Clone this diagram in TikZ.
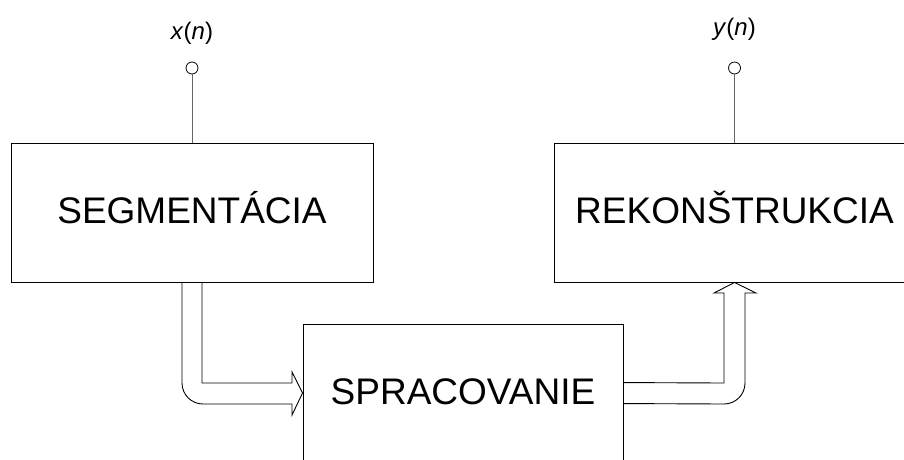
\documentclass[tikz,border=0pt]{standalone}
\usepackage{fontspec}
\setmainfont{Liberation Sans}
\begin{document}
\begin{tikzpicture}[x=1pt,y=-1pt,
  box/.style={draw, line width=0.9pt, inner sep=0pt},
  lbl/.style={font=\fontsize{37}{44}\selectfont, anchor=base, inner sep=0pt},
  sig/.style={font=\fontsize{24}{28}\selectfont, anchor=base, inner sep=0pt},
  term/.style={circle, draw, line width=0.8pt, minimum size=12pt, inner sep=0pt, fill=white},
  stem/.style={draw, line width=1pt, black!60},
  dbl/.style={draw, line width=0.9pt, line join=miter}]
\clip (0,0) rectangle (904,459);
\fill[white] (0,0) rectangle (904,459);
% boxes
\node[box, minimum width=362pt, minimum height=139pt] (seg) at (192,212.5) {};
\node[box, minimum width=361pt, minimum height=139pt] (rek) at (734.5,212.5) {};
\node[box, minimum width=320pt, minimum height=160pt] (spr) at (463,404) {};
\node[lbl] (segt) at (192,223) {SEGMENTÁCIA};
\node[lbl] (rekt) at (734.5,223) {REKONŠTRUKCIA};
\node[lbl] (sprt) at (463,404) {SPRACOVANIE};
% terminals
\node[term] (xin) at (192,68) {};
\node[term] (yout) at (734.5,68) {};
\node[sig] (xlab) at (192,39) {\textit{x}(\textit{n})};
\node[sig] (ylab) at (734.5,35) {\textit{y}(\textit{n})};
\draw[stem] (xin) -- (seg.north);
\draw[stem] (yout) -- (rek.north);
% left double arrow
\draw[dbl] ([xshift=-10pt]seg.south) -- (182,383)
  .. controls (182,394.6) and (191.4,404) .. (203,404)
  -- (292,404) -- (292,415) -- ([yshift=-69.5pt]spr.north west)
  -- (292,372) -- (292,383) -- (202,383) -- ([xshift=10pt]seg.south);
% right double arrow
\draw[dbl] ([yshift=-59pt]spr.north east) -- (724,383) -- (724,293)
  -- (714,293) -- (rek.south) -- (756,293) -- (745,293) -- (745,383)
  .. controls (745,394.6) and (735.6,404) .. (724,404)
  -- ([yshift=-80pt]spr.north east);
\end{tikzpicture}
\end{document}
